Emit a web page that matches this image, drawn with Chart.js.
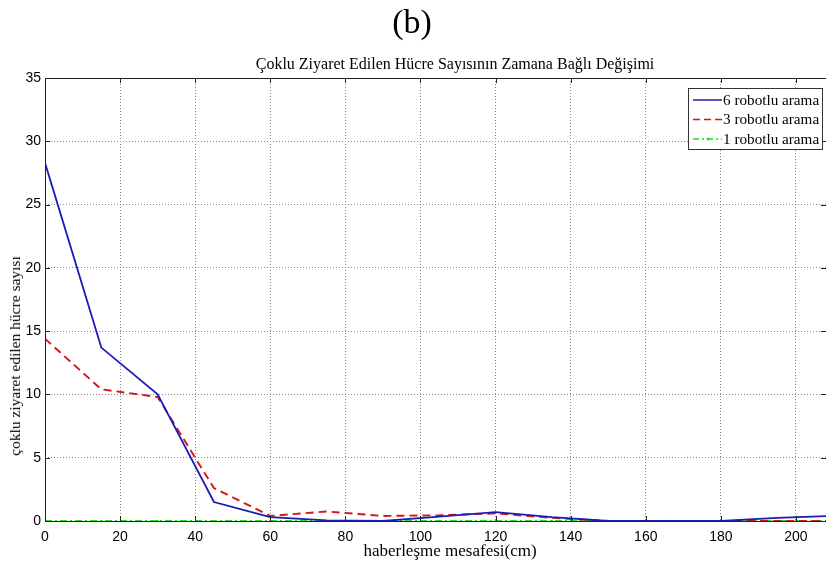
<!DOCTYPE html>
<html>
<head>
<meta charset="utf-8">
<script src="https://cdn.jsdelivr.net/npm/chart.js@4"></script>
<style>
  body { margin: 0; background: #fff; }
  #wrap { position: relative; width: 826px; height: 565px; }
  .txt { position: absolute; white-space: nowrap; color: #000;
         font-family: "Liberation Serif", "DejaVu Serif", serif; }
  #label { left: 412px; top: 22px; transform: translate(-50%, -50%); font-size: 34px; }
  #title { left: 455px; top: 64px; transform: translate(-50%, -50%); font-size: 16px; }
  #xtitle { left: 450px; top: 551px; transform: translate(-50%, -50%); font-size: 17px; }
  #ytitle { left: 15px; top: 356px; transform: translate(-50%, -50%) rotate(-90deg); font-size: 15.5px; }
  canvas { position: absolute; left: 0; top: 0; }
</style>
</head>
<body>
<div id="wrap">
  <canvas id="chart" width="826" height="565"></canvas>
  <div class="txt" id="label">(b)</div>
  <div class="txt" id="title">Çoklu Ziyaret Edilen Hücre Sayısının Zamana Bağlı Değişimi</div>
  <div class="txt" id="xtitle">haberleşme mesafesi(cm)</div>
  <div class="txt" id="ytitle">çoklu ziyaret edilen hücre sayısı</div>
</div>
<script>
const distances = [0, 15, 30, 45, 60, 75, 90, 105, 120, 135, 150, 165, 180, 195, 210];
const robot6 = [28.3, 13.7, 10.0, 1.5, 0.3, 0.05, 0.0, 0.35, 0.7, 0.3, 0.0, 0.0, 0.0, 0.25, 0.4];
const robot3 = [14.4, 10.4, 9.8, 2.6, 0.4, 0.75, 0.4, 0.45, 0.6, 0.25, 0.0, 0.0, 0.0, 0.0, 0.0];
const robot1 = [0, 0, 0, 0, 0, 0, 0, 0, 0, 0, 0, 0, 0, 0, 0];
const seriesNames = ['6 robotlu arama', '3 robotlu arama', '1 robotlu arama'];
const xTicks = [0, 20, 40, 60, 80, 100, 120, 140, 160, 180, 200];
const yTicks = [0, 5, 10, 15, 20, 25, 30, 35];

const serif = '"Liberation Serif", "DejaVu Serif", serif';
const sans = '"Liberation Sans", Arial, sans-serif';
const legendDash = [[], [7, 4], [6, 3, 2, 3]];

const toPoints = vals => distances.map((d, i) => ({ x: d, y: vals[i] }));

// matlab style frame, inward ticks and legend box
const matlabFrame = {
    id: 'matlabFrame',
    afterDraw(chart) {
        const { ctx, chartArea: a, scales } = chart;
        ctx.save();
        ctx.strokeStyle = '#222';
        ctx.lineWidth = 1;
        ctx.strokeRect(a.left + 0.5, a.top + 0.5, a.right - a.left, a.bottom - a.top);
        ctx.beginPath();
        xTicks.forEach(v => {
            const px = Math.round(scales.x.getPixelForValue(v)) + 0.5;
            ctx.moveTo(px, a.bottom); ctx.lineTo(px, a.bottom - 5);
            ctx.moveTo(px, a.top); ctx.lineTo(px, a.top + 5);
        });
        yTicks.forEach(v => {
            const py = Math.round(scales.y.getPixelForValue(v)) + 0.5;
            ctx.moveTo(a.left, py); ctx.lineTo(a.left + 5, py);
            ctx.moveTo(a.right, py); ctx.lineTo(a.right - 5, py);
        });
        ctx.stroke();

        // legend
        const bx = 688, by = 88, bw = 134, bh = 61;
        ctx.fillStyle = '#fff';
        ctx.fillRect(bx, by, bw, bh);
        ctx.strokeStyle = '#333';
        ctx.lineWidth = 1;
        ctx.strokeRect(bx + 0.5, by + 0.5, bw, bh);
        ctx.font = '15.2px ' + serif;
        ctx.textBaseline = 'middle';
        chart.data.datasets.forEach((ds, i) => {
            const y = by + 12 + i * 19.5;
            ctx.beginPath();
            ctx.strokeStyle = ds.borderColor;
            ctx.lineWidth = 1.5;
            ctx.setLineDash(legendDash[i]);
            ctx.moveTo(bx + 5, y); ctx.lineTo(bx + 34, y);
            ctx.stroke();
            ctx.setLineDash([]);
            if (ds.pointRadius) {
                ctx.fillStyle = ds.borderColor;
                ctx.beginPath(); ctx.arc(bx + 20, y, 1.5, 0, Math.PI * 2); ctx.fill();
            }
            ctx.fillStyle = '#000';
            ctx.fillText(ds.label, bx + 35, y + 1);
        });
        ctx.restore();
    }
};

new Chart(document.getElementById('chart'), {
    type: 'line',
    data: {
        datasets: [
            { label: seriesNames[0], data: toPoints(robot6), borderColor: '#1c1cb4', borderWidth: 1.8,
              pointRadius: 0, tension: 0 },
            { label: seriesNames[1], data: toPoints(robot3), borderColor: '#d01818', borderWidth: 1.9,
              borderDash: [8, 5], pointRadius: 0, tension: 0 },
            { label: seriesNames[2], data: toPoints(robot1), borderColor: '#22dd22', borderWidth: 1.8,
              borderDash: [7, 3, 2, 3], pointRadius: 1.3, pointBackgroundColor: '#22dd22',
              pointBorderWidth: 0, tension: 0 }
        ]
    },
    plugins: [matlabFrame],
    options: {
        responsive: false,
        animation: false,
        layout: { autoPadding: false, padding: { top: 78, right: 0, left: 0, bottom: 0 } },
        plugins: { legend: { display: false }, tooltip: { enabled: false } },
        scales: {
            x: {
                type: 'linear', min: 0, max: 208,
                afterBuildTicks: s => { s.ticks = xTicks.map(v => ({ value: v })); },
                afterFit: s => { s.height = 44; s.paddingRight = 0; s.paddingLeft = 0; },
                grid: { color: '#888', drawTicks: false },
                border: { display: false, dash: [1, 2] },
                ticks: { color: '#000', padding: 8, maxRotation: 0, font: { family: sans, size: 14 } }
            },
            y: {
                min: 0, max: 35,
                afterBuildTicks: s => { s.ticks = yTicks.map(v => ({ value: v })); },
                afterFit: s => { s.width = 45; s.paddingTop = 0; s.paddingBottom = 0; },
                grid: { color: '#888', drawTicks: false },
                border: { display: false, dash: [1, 2] },
                ticks: { color: '#000', padding: 4, font: { family: sans, size: 14 } }
            }
        }
    }
});
</script>
</body>
</html>
